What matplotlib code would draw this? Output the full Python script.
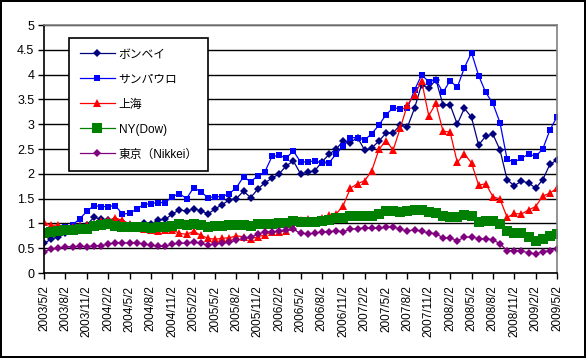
import matplotlib
matplotlib.use("Agg")
import matplotlib.pyplot as plt
from matplotlib.ticker import FormatStrFormatter

plt.rcParams['font.family'] = ['Liberation Sans', 'Noto Sans CJK JP', 'DejaVu Sans']

# monthly points, 2003/5 .. 2009/5
tick_labels = [
    "2003/5/2", "2003/8/2", "2003/11/2", "2004/2/2", "2004/5/2", "2004/8/2",
    "2004/11/2", "2005/2/2", "2005/5/2", "2005/8/2", "2005/11/2", "2006/2/2",
    "2006/5/2", "2006/8/2", "2006/11/2", "2007/2/2", "2007/5/2", "2007/8/2",
    "2007/11/2", "2008/2/2", "2008/5/2", "2008/8/2", "2008/11/2", "2009/2/2",
    "2009/5/2",
]

bombay = [0.60, 0.68, 0.73, 0.81, 0.88, 0.95, 0.97, 1.12, 1.09, 1.07, 1.07, 1.03, 0.97,
          0.95, 1.00, 0.98, 1.07, 1.08, 1.19, 1.27, 1.25, 1.29, 1.26, 1.19, 1.29, 1.38,
          1.47, 1.50, 1.65, 1.52, 1.69, 1.82, 1.91, 2.00, 2.16, 2.26, 2.00, 2.03, 2.06,
          2.24, 2.39, 2.50, 2.66, 2.63, 2.73, 2.48, 2.52, 2.66, 2.82, 2.83, 2.98, 2.94,
          3.32, 3.80, 3.72, 3.90, 3.39, 3.39, 3.00, 3.32, 3.14, 2.58, 2.76, 2.80, 2.48,
          1.88, 1.76, 1.85, 1.82, 1.71, 1.88, 2.19, 2.28]
saopaulo = [0.83, 0.85, 0.88, 0.92, 0.97, 1.09, 1.24, 1.36, 1.34, 1.34, 1.36, 1.19, 1.20,
            1.29, 1.38, 1.40, 1.42, 1.42, 1.54, 1.60, 1.50, 1.72, 1.64, 1.52, 1.54, 1.54,
            1.60, 1.72, 1.94, 1.84, 1.96, 2.04, 2.35, 2.37, 2.32, 2.46, 2.24, 2.24, 2.26,
            2.22, 2.22, 2.40, 2.56, 2.73, 2.73, 2.68, 2.81, 2.98, 3.19, 3.33, 3.31, 3.32,
            3.69, 3.99, 3.86, 3.89, 3.64, 3.88, 3.74, 4.14, 4.44, 3.98, 3.64, 3.42, 3.03,
            2.29, 2.24, 2.31, 2.40, 2.35, 2.50, 2.88, 3.15]
shanghai = [1.02, 0.96, 0.97, 0.91, 0.92, 0.95, 0.96, 0.99, 1.05, 1.06, 1.11, 1.06, 0.99,
            0.90, 0.88, 0.86, 0.85, 0.86, 0.87, 0.80, 0.78, 0.84, 0.76, 0.70, 0.68, 0.70,
            0.71, 0.75, 0.73, 0.69, 0.73, 0.77, 0.83, 0.83, 0.85, 0.93, 1.07, 1.08, 1.05,
            1.10, 1.16, 1.19, 1.36, 1.71, 1.80, 1.86, 2.06, 2.49, 2.67, 2.48, 2.92, 3.39,
            3.59, 3.87, 3.17, 3.42, 2.86, 2.84, 2.23, 2.40, 2.22, 1.77, 1.80, 1.54, 1.49,
            1.12, 1.20, 1.19, 1.27, 1.34, 1.55, 1.61, 1.71]
dow = [0.81, 0.83, 0.85, 0.87, 0.86, 0.89, 0.89, 0.95, 0.97, 0.98, 0.95, 0.92, 0.93,
       0.92, 0.92, 0.90, 0.92, 0.92, 0.95, 0.98, 0.97, 0.99, 0.97, 0.93, 0.95, 0.95,
       0.97, 0.97, 0.97, 0.95, 0.99, 0.99, 0.99, 1.01, 1.01, 1.05, 1.03, 1.02, 1.02,
       1.05, 1.07, 1.10, 1.10, 1.15, 1.15, 1.14, 1.14, 1.19, 1.25, 1.24, 1.22, 1.24,
       1.27, 1.27, 1.22, 1.20, 1.14, 1.12, 1.12, 1.17, 1.15, 1.02, 1.05, 1.05, 0.99,
       0.85, 0.81, 0.81, 0.72, 0.65, 0.69, 0.75, 0.79]
nikkei = [0.43, 0.48, 0.50, 0.53, 0.53, 0.54, 0.53, 0.55, 0.55, 0.58, 0.61, 0.61, 0.60,
          0.61, 0.58, 0.56, 0.54, 0.54, 0.58, 0.60, 0.60, 0.62, 0.60, 0.56, 0.59, 0.60,
          0.62, 0.66, 0.70, 0.72, 0.78, 0.83, 0.83, 0.84, 0.87, 0.88, 0.80, 0.79, 0.80,
          0.83, 0.83, 0.85, 0.83, 0.89, 0.89, 0.91, 0.90, 0.90, 0.92, 0.93, 0.88, 0.85,
          0.87, 0.84, 0.81, 0.79, 0.71, 0.71, 0.65, 0.72, 0.73, 0.69, 0.69, 0.67, 0.59,
          0.45, 0.45, 0.44, 0.41, 0.38, 0.43, 0.45, 0.49]

series = [
    ("ボンベイ", bombay, "#000080", "D", 4.5),
    ("サンパウロ", saopaulo, "#0000FF", "s", 5),
    ("上海", shanghai, "#FF0000", "^", 6),
    ("NY(Dow)", dow, "#008000", "s", 6.5),
    ("東京（Nikkei）", nikkei, "#800080", "D", 4.5),
]

fig = plt.figure(figsize=(5.86, 3.58), dpi=100)
fig.patch.set_facecolor('white')
fig.patch.set_edgecolor('black')
fig.patch.set_linewidth(1.5)
ax = fig.add_axes([44 / 586, 1 - 273 / 358, 513 / 586, 248 / 358])

x = list(range(len(bombay)))
for label, vals, color, marker, ms in series:
    ax.plot(x, vals, color=color, marker=marker, markersize=ms, linewidth=0.9,
            markeredgewidth=0, label=label)

ax.set_xlim(0, len(bombay) - 1)
ax.set_ylim(0, 5)
ax.set_yticks([i * 0.5 for i in range(11)])
ax.yaxis.set_major_formatter(FormatStrFormatter('%g'))
ax.set_xticks(list(range(0, len(bombay), 3)))
ax.set_xticklabels(tick_labels, rotation=90, fontsize=8.5)
ax.tick_params(axis='y', labelsize=9, length=4, width=1, pad=3)
ax.tick_params(axis='x', length=4, width=1, pad=5)

ax.grid(axis='y', color='black', linewidth=1)
ax.set_axisbelow(True)
for side in ['left', 'bottom']:
    ax.spines[side].set_color('black')
    ax.spines[side].set_linewidth(1.2)
for side in ['top', 'right']:
    ax.spines[side].set_color('#808080')
    ax.spines[side].set_linewidth(1.2)

leg = ax.legend(loc='upper left', bbox_to_anchor=(25 / 513, 235 / 248), borderaxespad=0,
                fontsize=8.5, frameon=True, fancybox=False, edgecolor='black',
                labelspacing=1.1, handlelength=3.0, borderpad=0.9, handletextpad=0.3)
leg.get_frame().set_linewidth(1.2)
leg.get_frame().set_alpha(1)

fig.savefig("out.png", dpi=100)
